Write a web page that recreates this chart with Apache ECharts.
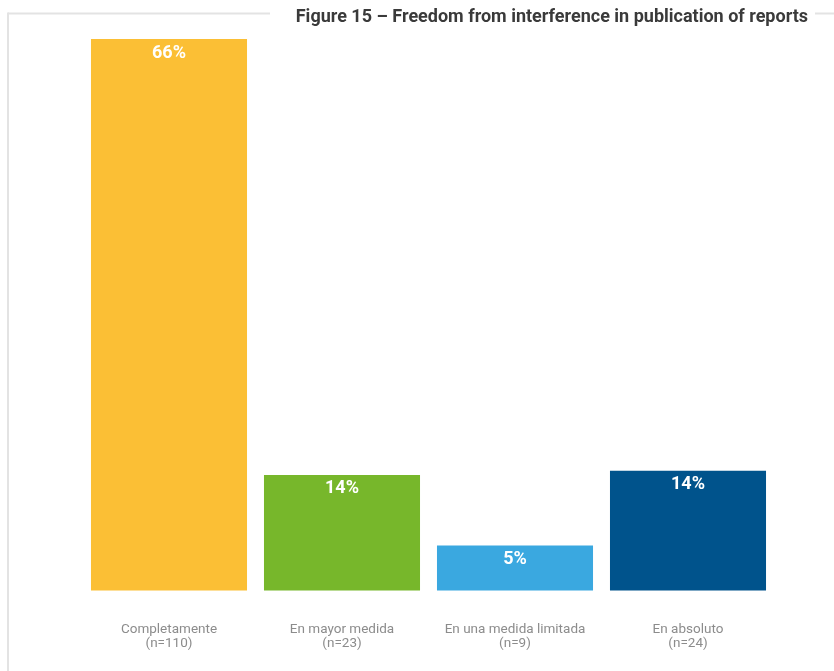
<!DOCTYPE html>
<html>
<head>
<meta charset="utf-8">
<script src="https://cdn.jsdelivr.net/npm/echarts@6/dist/echarts.min.js"></script>
<style>
  html, body { margin: 0; padding: 0; background: #fff; }
  #chart { width: 834px; height: 671px; }
</style>
</head>
<body>
<div id="chart"></div>
<script>
// Response categories with respondent counts
const categories = ['Completamente', 'En mayor medida', 'En una medida limitada', 'En absoluto'];
const counts = [110, 23, 9, 24];
// Share of respondents (%)
const shares = [66.3, 13.9, 5.4, 14.4];
const barColors = ['#FBBF35', '#77B72B', '#3AA8E0', '#00538C'];

const chart = echarts.init(document.getElementById('chart'), null, { renderer: 'canvas' });

chart.setOption({
  backgroundColor: '#ffffff',
  animation: false,
  title: {
    text: 'Figure 15 \u2013 Freedom from interference in publication of reports',
    right: 21,
    top: 3,
    textStyle: {
      fontFamily: 'Roboto',
      fontWeight: 'bold',
      fontSize: 18,
      color: '#3a3a3a'
    }
  },
  graphic: [
    // frame lines around the figure header
    { type: 'line', shape: { x1: 8, y1: 13.5, x2: 270, y2: 13.5 }, style: { stroke: '#e3e3e3', lineWidth: 2 } },
    { type: 'line', shape: { x1: 815, y1: 13.5, x2: 834, y2: 13.5 }, style: { stroke: '#e3e3e3', lineWidth: 2 } },
    { type: 'line', shape: { x1: 8, y1: 12.5, x2: 8, y2: 671 }, style: { stroke: '#e3e3e3', lineWidth: 2 } }
  ],
  grid: { left: 82.5, width: 692, top: 39, height: 551.5, containLabel: false },
  xAxis: {
    type: 'category',
    data: categories.map((c, i) => c + '\n(n=' + counts[i] + ')'),
    axisLine: { show: false },
    axisTick: { show: false },
    axisLabel: {
      margin: 32,
      interval: 0,
      fontFamily: 'Roboto',
      fontSize: 13.5,
      lineHeight: 14,
      color: '#8c8c8c'
    }
  },
  yAxis: {
    type: 'value',
    min: 0,
    max: 66.3,
    show: false,
    splitLine: { show: false }
  },
  series: [{
    type: 'bar',
    barCategoryGap: '9.8%',
    data: shares.map((v, i) => ({ value: v, itemStyle: { color: barColors[i] } })),
    label: {
      show: true,
      position: 'insideTop',
      distance: 5,
      formatter: p => Math.round(p.value) + '%',
      fontFamily: 'Roboto',
      fontWeight: 'bold',
      fontSize: 18,
      color: '#ffffff'
    }
  }]
});
</script>
</body>
</html>
